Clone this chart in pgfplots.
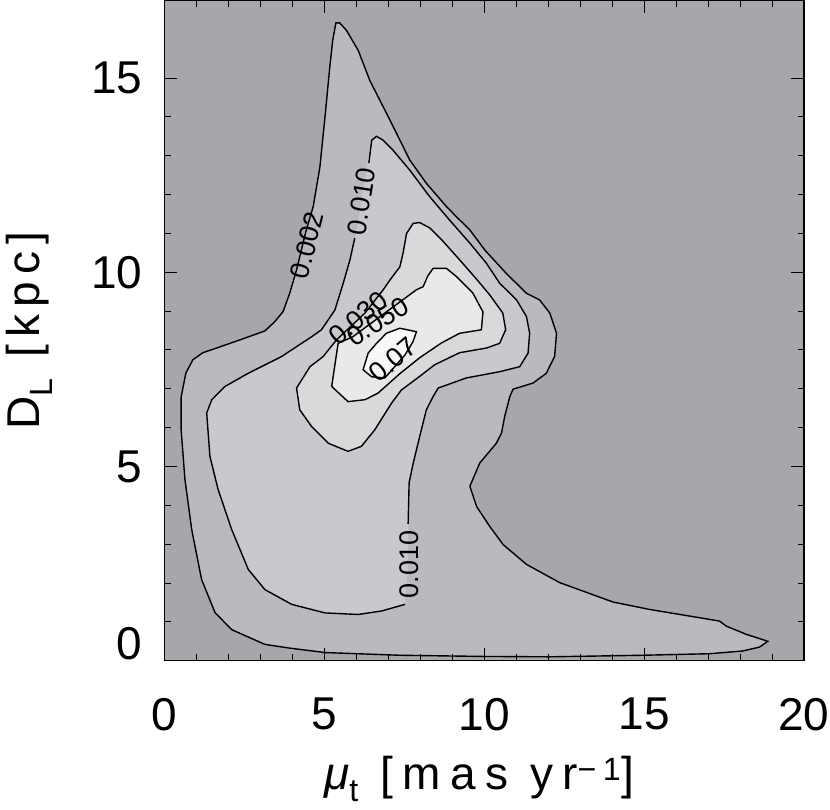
\documentclass[border=0pt]{standalone}
\usepackage{pgfplots}
\pgfplotsset{compat=1.18}
\usepackage{fontspec}
\setmainfont{Liberation Sans}
\newfontfamily\xlblfont[LetterSpace=20]{Liberation Sans}
\newfontfamily\ylblfont[LetterSpace=16]{Liberation Sans}
\definecolor{c0}{RGB}{166,167,171}
\definecolor{c1}{RGB}{185,186,189}
\definecolor{c2}{RGB}{200,201,204}
\definecolor{c3}{RGB}{216,217,219}
\definecolor{c4}{RGB}{232,233,235}
\definecolor{c5}{RGB}{248,248,248}
\begin{document}
\begin{tikzpicture}
\begin{axis}[
  scale only axis, width=639.5pt, height=660.3pt,
  xmin=0, xmax=20, ymin=0, ymax=17,
  xtick={0,5,10,15,20}, xticklabels={0,5,10,15,20},
  ytick={0,5,10,15}, yticklabels={\raisebox{17pt}[\height][\depth]{0},5,10,15},
  minor x tick num=4, minor y tick num=4,
  tick align=inside,
  major tick length=13pt, minor tick length=6.5pt,
  every tick/.style={black, line width=1pt},
  axis line style={black, line width=1.3pt},
  axis background/.style={fill=c0},
  axis on top,
  xticklabel style={font=\fontsize{46}{50}\selectfont, anchor=north, inner sep=0pt, yshift=-37pt},
  yticklabel style={font=\fontsize{46}{50}\selectfont, anchor=east, inner sep=0pt, xshift=-22pt},
  every axis x label/.style={at={(axis description cs:0.492,-0.214)}, anchor=south, inner sep=0pt, font=\xlblfont\fontsize{46}{50}\selectfont},
  every axis y label/.style={at={(axis description cs:-0.1744,0.5)}, rotate=90, anchor=south, inner sep=0pt, font=\ylblfont\fontsize{46}{50}\selectfont},
  xlabel={{\itshape μ}\textsubscript{t} [mas yr\textsuperscript{−1}]},
  ylabel={D\textsubscript{L} [kpc]},
]
% level 0.002
\addplot[fill=c1, draw=black, line width=1.4pt] coordinates {
(18.87,0.50) (18.61,0.35) (18.08,0.25) (17.05,0.18) (14.95,0.14) (12.05,0.10) (9.95,0.11) (7.36,0.14) (5.02,0.21) (3.86,0.33) (3.14,0.42) (2.10,0.80) (1.58,1.24) (1.16,2.09) (0.85,3.38) (0.64,4.66) (0.52,5.95) (0.52,6.79) (0.67,7.41) (0.89,7.75) (1.20,7.93) (1.63,8.05) (2.36,8.26) (3.14,8.49) (3.45,8.73) (3.71,8.99) (3.92,9.47) (4.13,10.06) (4.23,10.40) (4.42,11.04) (4.65,11.69) (4.86,12.71) (5.02,14.00) (5.17,15.29) (5.26,15.97) (5.36,16.42) (5.48,16.42) (5.69,16.23) (6.06,15.71) (6.42,14.94) (7.05,13.92) (7.67,12.89) (8.19,12.29) (8.82,11.69) (9.13,11.43) (9.55,11.09) (10.02,10.57) (10.69,9.97) (11.32,9.46) (11.73,9.29) (12.05,8.95) (12.26,8.43) (12.20,7.83) (11.94,7.40) (11.53,7.15) (10.90,6.99) (10.80,6.80) (10.64,6.29) (10.54,5.86) (10.38,5.60) (9.86,5.09) (9.55,4.49) (9.76,3.97) (10.17,3.46) (10.59,2.99) (11.32,2.48) (12.36,2.01) (14.03,1.51) (15.17,1.32) (17.36,1.02) (17.57,0.89) (18.19,0.68)
} -- cycle;
% level 0.010 (fill)
\addplot[fill=c2, draw=none] coordinates {
(6.48,13.40) (6.63,13.50) (6.84,13.40) (7.15,13.14) (7.67,12.63) (8.30,11.94) (8.92,11.34) (9.55,10.75) (10.07,10.23) (10.48,9.72) (11.01,9.29) (11.32,8.86) (11.42,8.43) (11.37,7.92) (11.11,7.57) (10.48,7.44) (9.44,7.28) (8.56,7.02) (8.40,6.80) (8.19,6.46) (7.98,5.77) (7.78,5.09) (7.65,4.58) (7.62,3.46) (7.62,2.48) (7.52,1.45) (6.79,1.28) (6.06,1.19) (5.02,1.23) (3.98,1.45) (3.14,1.83) (2.62,2.35) (2.10,3.38) (1.68,4.40) (1.42,5.26) (1.32,6.38) (1.48,6.72) (1.89,7.06) (2.62,7.40) (3.66,7.83) (4.60,8.34) (4.91,8.52) (5.33,9.03) (5.59,9.72) (5.80,10.32) (5.95,10.83) (6.17,11.86) (6.37,12.97)
} -- cycle;
% level 0.010 (lines, broken at the labels)
\addplot[black, line width=1.4pt] coordinates {
(6.39,12.81) (6.48,13.40) (6.63,13.50) (6.84,13.40) (7.15,13.14) (7.67,12.63) (8.30,11.94) (8.92,11.34) (9.55,10.75) (10.07,10.23) (10.48,9.72) (11.01,9.29) (11.32,8.86) (11.42,8.43) (11.37,7.92) (11.11,7.57) (10.48,7.44) (9.44,7.28) (8.56,7.02) (8.40,6.80) (8.19,6.46) (7.98,5.77) (7.78,5.09) (7.65,4.58) (7.62,3.52)
};
\addplot[black, line width=1.4pt] coordinates {
(7.52,1.45) (6.79,1.28) (6.06,1.19) (5.02,1.23) (3.98,1.45) (3.14,1.83) (2.62,2.35) (2.10,3.38) (1.68,4.40) (1.42,5.26) (1.32,6.38) (1.48,6.72) (1.89,7.06) (2.62,7.40) (3.66,7.83) (4.60,8.34) (4.91,8.52) (5.33,9.03) (5.59,9.72) (5.80,10.32) (5.95,10.88)
};
% level 0.030
\addplot[fill=c3, draw=black, line width=1.4pt] coordinates {
(7.78,11.26) (7.98,11.28) (8.30,11.14) (8.71,10.80) (9.23,10.32) (9.73,9.85) (10.17,9.42) (10.58,8.95) (10.67,8.52) (10.48,8.17) (10.07,8.05) (9.23,7.93) (8.45,7.62) (7.98,7.32) (7.41,6.97) (7.10,6.63) (6.58,5.95) (6.16,5.52) (5.74,5.39) (5.12,5.60) (4.60,6.03) (4.23,6.46) (4.13,7.02) (4.55,7.57) (4.96,7.83) (5.38,8.26) (6.27,8.95) (6.84,9.55) (7.05,9.80) (7.36,10.14) (7.46,10.49) (7.57,11.00)
} -- cycle;
% level 0.050
\addplot[fill=c4, draw=black, line width=1.4pt] coordinates {
(8.40,10.10) (8.82,10.10) (9.13,9.89) (9.64,9.47) (9.96,8.98) (9.91,8.52) (9.23,8.43) (8.66,8.18) (7.98,7.80) (7.36,7.39) (6.68,6.89) (6.27,6.72) (5.74,6.67) (5.23,7.06) (5.33,7.62) (5.43,8.17) (5.89,8.34) (6.89,8.95) (7.88,9.55) (8.09,9.63) (8.23,9.90)
} -- cycle;
% level 0.07
\addplot[fill=c5, draw=black, line width=1.4pt] coordinates {
(7.36,8.56) (7.88,8.47) (7.77,8.21) (7.52,7.87) (6.89,7.28) (6.48,7.31) (6.21,7.49) (6.37,7.92) (6.63,8.17) (6.94,8.43)
} -- cycle;
% contour labels
\node[rotate=76, font=\fontsize{27}{30}\selectfont] at (axis cs:4.45,10.70) {0.002};
\node[rotate=81, font=\fontsize{27}{30}\selectfont] at (axis cs:6.16,11.83) {0.010};
\node[rotate=90, font=\fontsize{27}{30}\selectfont] at (axis cs:7.66,2.48) {0.010};
\node[rotate=40, font=\fontsize{27}{30}\selectfont] at (axis cs:6.05,8.82) {0.030};
\node[rotate=32, font=\fontsize{27}{30}\selectfont] at (axis cs:6.67,8.72) {0.050};
\node[rotate=40, font=\fontsize{27}{30}\selectfont] at (axis cs:7.14,7.75) {0.07};
\end{axis}
\pgfresetboundingbox
\path[use as bounding box] (-164.5pt,-148.3pt) rectangle (665.5pt,660.7pt);
\end{tikzpicture}
\end{document}
